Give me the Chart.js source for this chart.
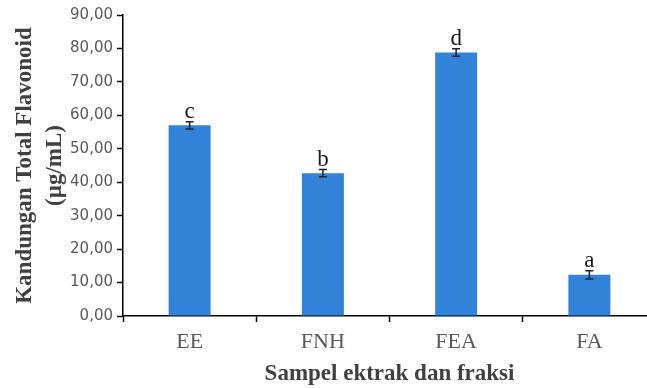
<!DOCTYPE html>
<html>
<head>
<meta charset="utf-8">
<script src="https://cdn.jsdelivr.net/npm/chart.js@4"></script>
<style>
  html, body { margin: 0; padding: 0; background: #fff; overflow: hidden; }
  #wrap { width: 660px; height: 388px; }
</style>
</head>
<body>
<div id="wrap"><canvas id="chart"></canvas></div>
<script>
const categories = ["EE", "FNH", "FEA", "FA"];
const flavonoid = [57.0, 42.7, 78.8, 12.3];
const errors = [1.1, 1.1, 1.1, 1.2];
const letters = ["c", "b", "d", "a"];
const yTitle = ["Kandungan Total Flavonoid", "(µg/mL)"];
const xTitle = "Sampel ektrak dan fraksi";

const barColor = "#3282d9";
const serif = "'Liberation Serif', 'Times New Roman', serif";

// error bars, significance letters and the y title
const extras = {
  id: "extras",
  afterDatasetsDraw(chart) {
    const ctx = chart.ctx;
    const x = chart.scales.x;
    const y = chart.scales.y;
    ctx.save();
    ctx.strokeStyle = "#222";
    ctx.lineWidth = 1.5;
    flavonoid.forEach((v, i) => {
      const cx = x.getPixelForValue(i);
      const top = y.getPixelForValue(v + errors[i]);
      const bot = y.getPixelForValue(v - errors[i]);
      ctx.beginPath();
      ctx.moveTo(cx, top); ctx.lineTo(cx, bot);
      ctx.moveTo(cx - 4, top); ctx.lineTo(cx + 4, top);
      ctx.moveTo(cx - 4, bot); ctx.lineTo(cx + 4, bot);
      ctx.stroke();
      ctx.fillStyle = "#1a1a1a";
      ctx.font = "23px " + serif;
      ctx.textAlign = "center";
      ctx.textBaseline = "alphabetic";
      ctx.fillText(letters[i], cx, top - 4);
    });

    const midY = (chart.chartArea.top + chart.chartArea.bottom) / 2;
    ctx.fillStyle = "#404040";
    ctx.font = "bold 23px " + serif;
    ctx.textAlign = "center";
    ctx.textBaseline = "middle";
    [25, 55].forEach((tx, k) => {
      ctx.save();
      ctx.translate(tx, midY);
      ctx.rotate(-Math.PI / 2);
      ctx.fillText(yTitle[k], 0, 0);
      ctx.restore();
    });
    ctx.restore();
  }
};

new Chart(document.getElementById("chart"), {
  type: "bar",
  data: {
    labels: categories,
    datasets: [{
      data: flavonoid,
      backgroundColor: barColor,
      barPercentage: 1,
      categoryPercentage: 0.315
    }]
  },
  options: {
    responsive: true,
    maintainAspectRatio: false,
    animation: false,
    layout: { padding: { top: 15, right: 4, left: 0, bottom: 0 } },
    plugins: { legend: { display: false }, tooltip: { enabled: false } },
    scales: {
      x: {
        border: { display: true, color: "#000", width: 1.5 },
        grid: { drawOnChartArea: false, drawTicks: true, tickLength: 6, tickColor: "#000", tickWidth: 1.5 },
        ticks: { color: "#595959", padding: 7, font: { family: serif, size: 22 } },
        title: {
          display: true, text: xTitle, color: "#404040",
          font: { family: serif, size: 23, weight: "bold" },
          padding: { top: 0, bottom: 0 }
        },
        afterFit(scale) { scale.height = 72; }
      },
      y: {
        min: 0, max: 90,
        border: { display: true, color: "#000", width: 1.5 },
        grid: { drawOnChartArea: false, drawTicks: true, tickLength: 6, tickColor: "#000", tickWidth: 1.5 },
        ticks: {
          stepSize: 10, padding: 4, color: "#595959",
          font: { family: "'DejaVu Sans', sans-serif", size: 15 },
          callback: (v) => Number(v).toFixed(2).replace(".", ",")
        },
        afterFit(scale) { scale.width = 123; }
      }
    }
  },
  plugins: [extras]
});
</script>
</body>
</html>
